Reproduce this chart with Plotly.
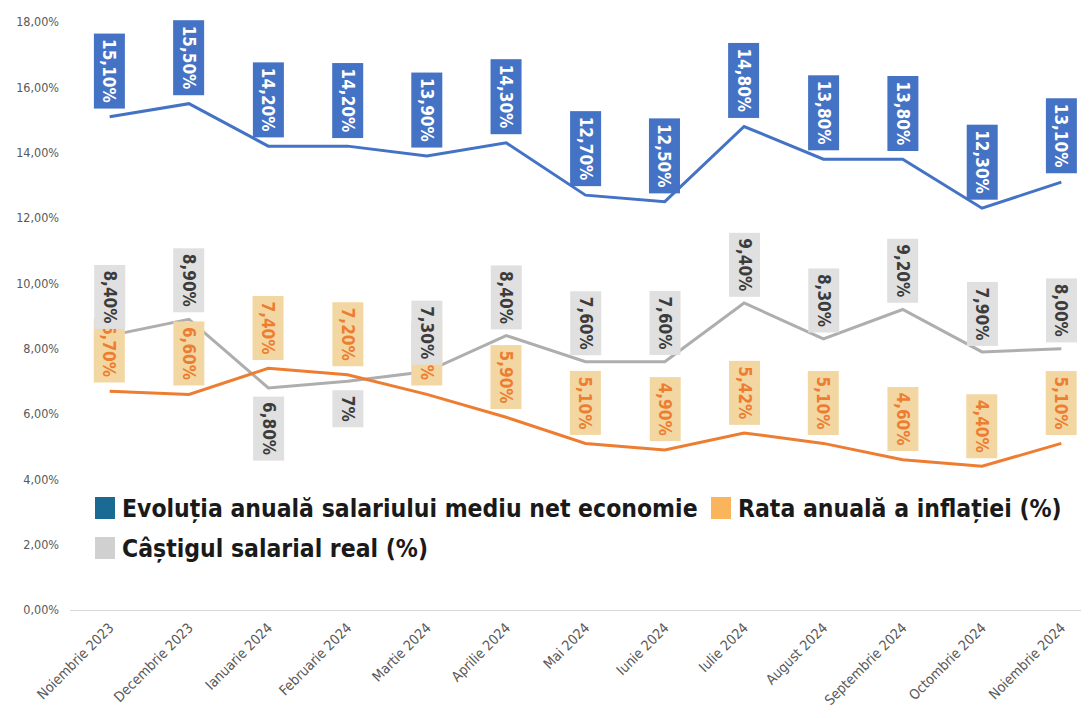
import plotly.graph_objects as go

months = ["Noiembrie 2023", "Decembrie 2023", "Ianuarie 2024", "Februarie 2024",
          "Martie 2024", "Aprilie 2024", "Mai 2024", "Iunie 2024", "Iulie 2024",
          "August 2024", "Septembrie 2024", "Octombrie 2024", "Noiembrie 2024"]

salariu = [15.1, 15.5, 14.2, 14.2, 13.9, 14.3, 12.7, 12.5, 14.8, 13.8, 13.8, 12.3, 13.1]
inflatie = [6.7, 6.6, 7.4, 7.2, 6.6, 5.9, 5.1, 4.9, 5.42, 5.1, 4.6, 4.4, 5.1]
castig = [8.4, 8.9, 6.8, 7.0, 7.3, 8.4, 7.6, 7.6, 9.4, 8.3, 9.2, 7.9, 8.0]

salariu_labels = ["15,10%", "15,50%", "14,20%", "14,20%", "13,90%", "14,30%", "12,70%",
                  "12,50%", "14,80%", "13,80%", "13,80%", "12,30%", "13,10%"]
inflatie_labels = ["6,70%", "6,60%", "7,40%", "7,20%", "6,60%", "5,90%", "5,10%",
                   "4,90%", "5,42%", "5,10%", "4,60%", "4,40%", "5,10%"]
castig_labels = ["8,40%", "8,90%", "6,80%", "7%", "7,30%", "8,40%", "7,60%",
                 "7,60%", "9,40%", "8,30%", "9,20%", "7,90%", "8,00%"]
castig_below = [False, False, True, True, False, False, False, False, False,
                False, False, False, False]

y_ticks = [0, 2, 4, 6, 8, 10, 12, 14, 16, 18]
y_ticklabels = ["0,00%", "2,00%", "4,00%", "6,00%", "8,00%", "10,00%", "12,00%",
                "14,00%", "16,00%", "18,00%"]

series_names = ["Evoluția anuală salariului mediu net economie",
                "Rata anuală a inflației (%)",
                "Câștigul salarial real (%)"]

LINE_BLUE = "#4472c4"
LINE_ORANGE = "#ed7d31"
LINE_GRAY = "#aeaeae"
LEG_COLORS = ["#1b6a93", "#f9b45c", "#d0d0d0"]

NARROW = "DejaVu Sans Condensed, Liberation Sans Narrow, sans-serif"

# page body has an 8px margin; compensate so the plot lands where the reference has it
OFF = 8
W, H = 1089, 718
ML, MR, MT, MB = 70 - OFF, 0, 22 - OFF, 108 + OFF

fig = go.Figure()
x_idx = list(range(len(months)))
for vals, col, name in [(salariu, LINE_BLUE, series_names[0]),
                        (castig, LINE_GRAY, series_names[2]),
                        (inflatie, LINE_ORANGE, series_names[1])]:
    fig.add_trace(go.Scatter(x=x_idx, y=vals, mode="lines", name=name,
                             line=dict(color=col, width=3), showlegend=False,
                             hoverinfo="skip"))

annotations = []


def add_labels(vals, labels, bg, fg, below=None, shift=8):
    for i, (v, t) in enumerate(zip(vals, labels)):
        b = below[i] if below else False
        annotations.append(dict(
            x=i, y=v, xref="x", yref="y", text=t, showarrow=False,
            textangle=90, bgcolor=bg, borderpad=5,
            font=dict(family=NARROW, size=17, color=fg, weight="bold"),
            yanchor="top" if b else "bottom", xanchor="center",
            yshift=-shift - 2 if b else shift))


add_labels(salariu, salariu_labels, LINE_BLUE, "#ffffff")
add_labels(inflatie, inflatie_labels, "#f3d7a2", LINE_ORANGE)
add_labels(castig, castig_labels, "#e0e0e0", "#3c3c3c", below=castig_below, shift=6)

# custom legend (reference page pixel positions converted to paper coords)
pw = W - ML - MR
ph = H - MT - MB


def px(xp):
    return (xp - OFF - ML) / pw


def py(yp):
    return (H - MB - (yp - OFF)) / ph


legend_items = [(95, 508, 0), (711, 508, 1), (95, 548, 2)]
shapes = []
for xs, yc, k in legend_items:
    shapes.append(dict(type="rect", xref="paper", yref="paper",
                       x0=px(xs), x1=px(xs + 20), y0=py(yc + 11), y1=py(yc - 11),
                       fillcolor=LEG_COLORS[k], line=dict(width=0), layer="above"))
    annotations.append(dict(x=px(xs + 25), y=py(yc), xref="paper", yref="paper",
                            text=series_names[k], showarrow=False,
                            xanchor="left", yanchor="middle",
                            font=dict(family=NARROW, size=24.5, color="#1a1a1a",
                                      weight="bold")))

fig.update_layout(
    width=W, height=H,
    margin=dict(l=ML, r=MR, t=MT, b=MB),
    plot_bgcolor="white", paper_bgcolor="white",
    showlegend=False,
    annotations=annotations,
    shapes=shapes,
    xaxis=dict(range=[-0.5, 12.45], tickvals=x_idx, ticktext=months,
               tickangle=-45, showgrid=False, zeroline=False,
               showline=True, linecolor="#d9d9d9", linewidth=1,
               ticks="", ticklabelstandoff=3, automargin=False,
               tickfont=dict(family=NARROW, size=14, color="#595959")),
    yaxis=dict(range=[0, 18], tickvals=y_ticks, ticktext=y_ticklabels,
               showgrid=False, zeroline=False, showline=False, ticks="",
               ticklabelstandoff=10, automargin=False,
               tickfont=dict(family=NARROW, size=12.5, color="#595959")),
)

fig.write_html("out.html")
